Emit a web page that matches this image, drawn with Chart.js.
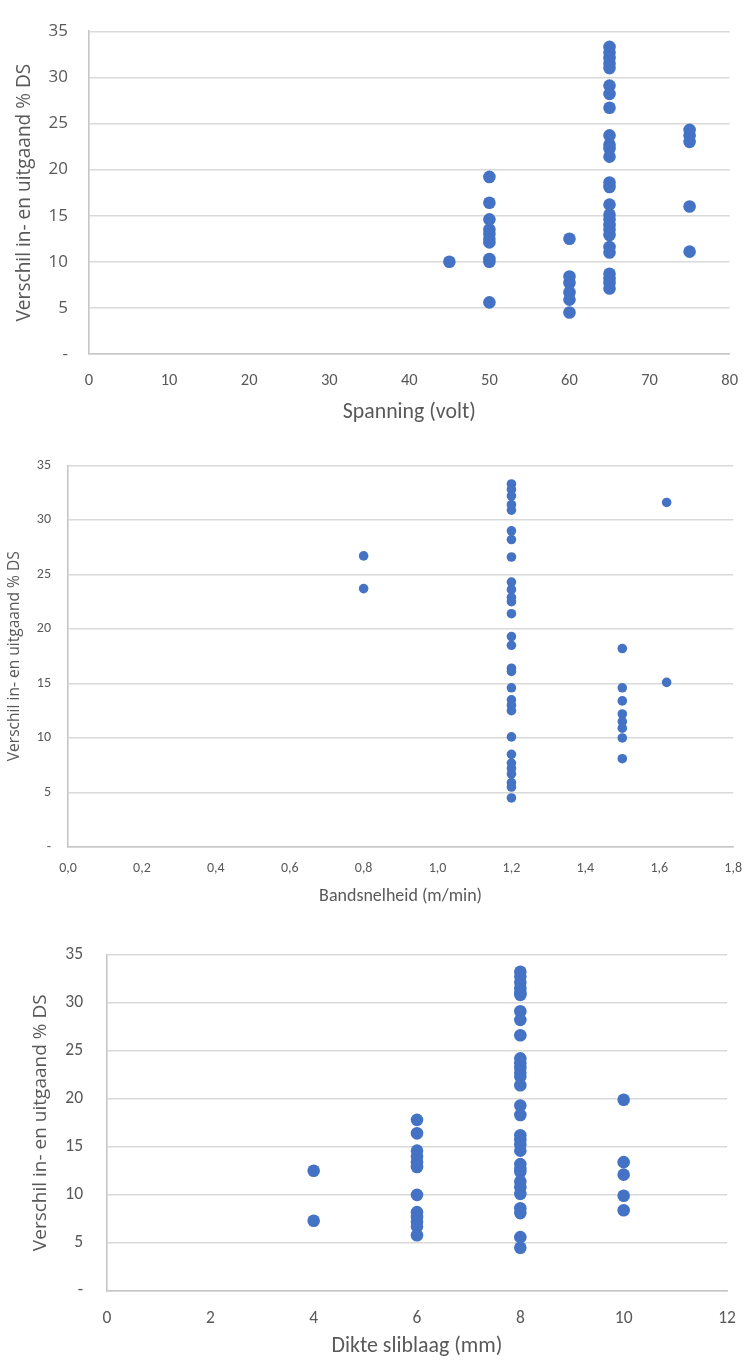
<!DOCTYPE html>
<html><head><meta charset="utf-8">
<script src="https://cdn.jsdelivr.net/npm/chart.js@4.4.1/dist/chart.umd.min.js"></script>
<style>
html,body{margin:0;padding:0;background:#fff;width:755px;height:1360px;overflow:hidden}
canvas{position:absolute;left:0}
</style></head>
<body>
<canvas id="c1" width="755" height="430" style="top:0px"></canvas>
<canvas id="c2" width="755" height="480" style="top:440px"></canvas>
<canvas id="c3" width="755" height="440" style="top:920px"></canvas>
<script>
// ---------- DATA ----------
const yAxisTitle = 'Verschil in- en uitgaand % DS';

const spanningTitle = 'Spanning (volt)';
const spanningX = [45, 50, 60, 65, 75];
const spanningY = [
  [10.0],
  [19.2, 16.4, 14.6, 13.5, 13.0, 12.5, 12.1, 10.3, 10.0, 5.6],
  [12.5, 8.4, 7.7, 6.7, 5.9, 4.5],
  [33.3, 32.7, 32.1, 31.5, 31.0, 29.1, 28.2, 26.7, 23.7, 22.7, 22.3, 21.4, 18.6, 18.1, 16.2, 15.1, 14.6, 14.0, 13.5, 12.9, 11.6, 11.0, 8.7, 8.2, 7.7, 7.1],
  [24.3, 23.7, 23.0, 16.0, 11.1]
];

const bandTitle = 'Bandsnelheid (m/min)';
const bandX = [0.8, 1.2, 1.5, 1.62];
const bandY = [
  [26.7, 23.7],
  [33.3, 32.8, 32.2, 31.4, 30.9, 29.0, 28.2, 26.6, 24.3, 23.6, 22.9, 22.5, 21.4, 19.3, 18.5, 16.4, 16.1, 14.6, 13.5, 13.0, 12.5, 10.1, 8.5, 7.7, 7.2, 6.7, 5.9, 5.5, 4.5],
  [18.2, 14.6, 13.4, 12.2, 11.5, 10.9, 10.0, 8.1],
  [31.6, 15.1]
];

const dikteTitle = 'Dikte sliblaag (mm)';
const dikteX = [4, 6, 8, 10];
const dikteY = [
  [12.5, 7.3],
  [17.8, 16.4, 14.6, 14.0, 13.4, 12.9, 10.0, 8.2, 7.7, 7.2, 6.7, 5.8],
  [33.2, 32.7, 32.1, 31.5, 31.0, 30.8, 29.1, 28.2, 26.6, 24.2, 23.7, 23.2, 22.7, 22.3, 21.4, 19.3, 18.3, 16.2, 15.7, 15.2, 14.6, 13.2, 12.7, 12.4, 11.4, 10.8, 10.1, 8.6, 8.1, 5.6, 4.5],
  [19.9, 13.4, 12.1, 9.9, 8.4]
];

const yTickValues = [0, 5, 10, 15, 20, 25, 30, 35];
const spanningTicks = [0, 10, 20, 30, 40, 50, 60, 70, 80];
const bandTicks = [0, 0.2, 0.4, 0.6, 0.8, 1.0, 1.2, 1.4, 1.6, 1.8];
const dikteTicks = [0, 2, 4, 6, 8, 10, 12];

// ---------- HELPERS ----------
const SEGOE = '"Open Sans", "Noto Sans", sans-serif';
const CALIBRI = 'Carlito, Calibri, Lato, sans-serif';
const GREY = '#595959';
const BLUE = '#4472C4';
const mctx = document.createElement('canvas').getContext('2d');
function fitSize(text, family, weight, target) {
  mctx.font = weight + ' 100px ' + family;
  return 100 * target / mctx.measureText(text).width;
}
function toPoints(xs, ys) {
  const pts = [];
  xs.forEach((x, i) => ys[i].forEach(y => pts.push({x: x, y: y})));
  return pts;
}

function makeChart(id, cfg) {
  const xTicks = cfg.xTicks;
  return new Chart(document.getElementById(id), {
    type: 'scatter',
    data: { datasets: [{
      data: toPoints(cfg.xs, cfg.ys),
      backgroundColor: BLUE, borderWidth: 0,
      pointRadius: cfg.r, pointHoverRadius: cfg.r
    }]},
    options: {
      responsive: false, animation: false, events: [],
      layout: { padding: { left: 0, top: cfg.top, right: cfg.right, bottom: 0 } },
      plugins: { legend: { display: false }, tooltip: { enabled: false } },
      scales: {
        x: {
          type: 'linear', min: xTicks[0], max: xTicks[xTicks.length - 1],
          afterBuildTicks: s => { s.ticks = xTicks.map(v => ({value: v})); },
          grid: { display: false, drawTicks: false },
          border: { display: true, color: '#c6c6c6', width: 1.6 },
          ticks: { color: GREY, font: { family: cfg.xTickFamily, size: cfg.xTickSize }, padding: cfg.xTickPad,
                   maxRotation: 0, autoSkip: false, callback: cfg.xFmt },
          title: { display: true, text: cfg.xTitle, color: GREY,
                   font: { family: cfg.xTitleFamily, size: cfg.xTitleSize }, padding: { top: 0, bottom: cfg.xTitlePad } },
          afterFit: s => { s.height = cfg.xH; }
        },
        y: {
          type: 'linear', min: 0, max: 35,
          afterBuildTicks: s => { s.ticks = yTickValues.map(v => ({value: v})); },
          grid: { color: '#d9d9d9', lineWidth: 1.4, drawTicks: false },
          border: { display: true, color: '#c6c6c6', width: 1.6 },
          ticks: { color: GREY, font: { family: cfg.yTickFamily, size: cfg.yTickSize }, padding: cfg.yTickPad,
                   callback: v => v === 0 ? '-' : String(v) },
          title: { display: true, text: yAxisTitle, color: GREY,
                   font: { family: SEGOE, size: cfg.yTitleSize }, padding: { top: cfg.yTitlePad, bottom: 0 } },
          afterFit: s => { s.width = cfg.yW; }
        }
      }
    }
  });
}

// Chart 1: Spanning
const c1yT = fitSize(yAxisTitle, SEGOE, 'normal', 258);
makeChart('c1', {
  xs: spanningX, ys: spanningY, xTicks: spanningTicks, r: 6.3,
  top: 21, right: 15, yW: 89, xH: 76,
  xTickFamily: CALIBRI, xTickSize: 16.5, xTickPad: 17, xFmt: v => String(v),
  xTitle: spanningTitle, xTitleFamily: CALIBRI, xTitleSize: fitSize(spanningTitle, CALIBRI, 'normal', 133), xTitlePad: 4,
  yTickFamily: SEGOE, yTickSize: 17, yTickPad: 21,
  yTitleSize: c1yT, yTitlePad: 25 - c1yT * 0.6
});

// Chart 2: Bandsnelheid
const c2yT = fitSize(yAxisTitle, SEGOE, 'normal', 210);
makeChart('c2', {
  xs: bandX, ys: bandY, xTicks: bandTicks, r: 4.8,
  top: 22, right: 12, yW: 68, xH: 73,
  xTickFamily: CALIBRI, xTickSize: 14, xTickPad: 13, xFmt: v => Number(v).toFixed(1).replace('.', ','),
  xTitle: bandTitle, xTitleFamily: CALIBRI, xTitleSize: fitSize(bandTitle, CALIBRI, 'normal', 163), xTitlePad: 13,
  yTickFamily: CALIBRI, yTickSize: 14, yTickPad: 17,
  yTitleSize: c2yT, yTitlePad: 15 - c2yT * 0.6
});

// Chart 3: Dikte sliblaag
const c3yT = fitSize(yAxisTitle, SEGOE, 'normal', 257);
makeChart('c3', {
  xs: dikteX, ys: dikteY, xTicks: dikteTicks, r: 6.3,
  top: 22, right: 28, yW: 107, xH: 69,
  xTickFamily: CALIBRI, xTickSize: 17.5, xTickPad: 17, xFmt: v => String(v),
  xTitle: dikteTitle, xTitleFamily: CALIBRI, xTitleSize: fitSize(dikteTitle, CALIBRI, 'normal', 171), xTitlePad: 0,
  yTickFamily: CALIBRI, yTickSize: 17.5, yTickPad: 24,
  yTitleSize: c3yT, yTitlePad: 41 - c3yT * 0.6
});
</script>
</body></html>
